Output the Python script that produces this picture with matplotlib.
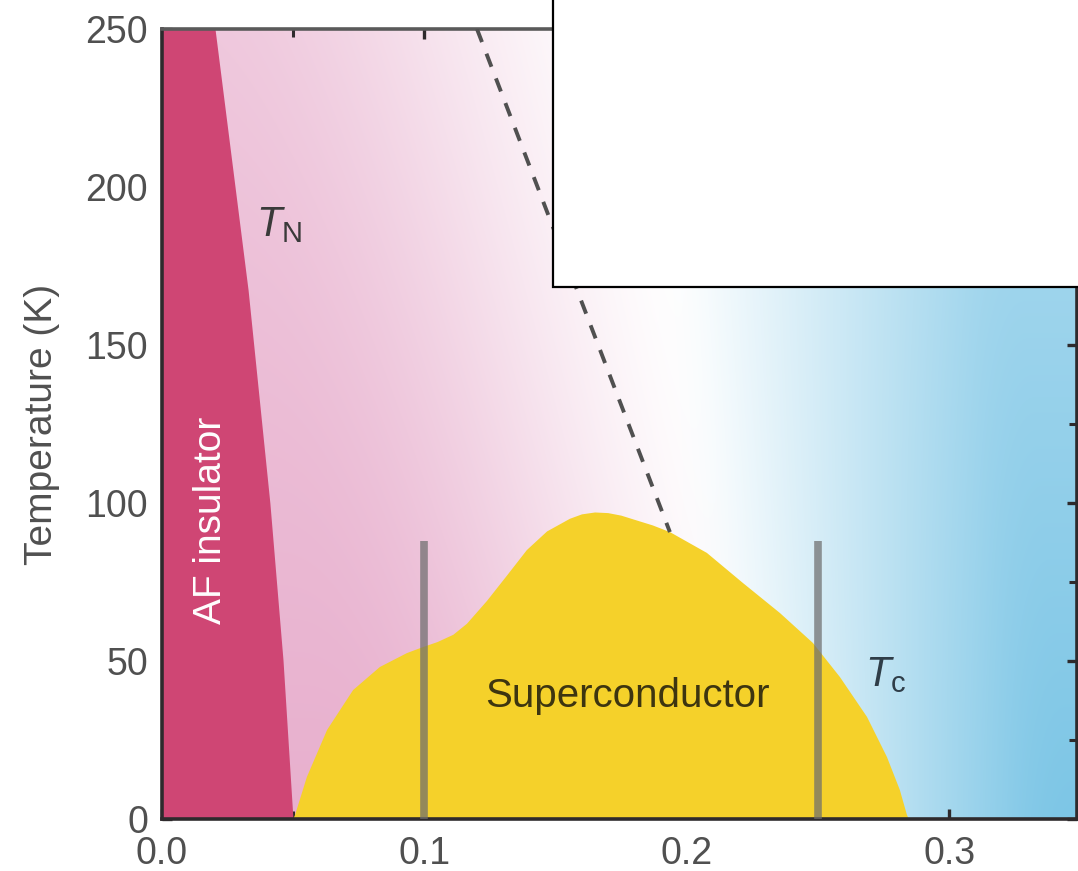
import numpy as np
import matplotlib
matplotlib.use("Agg")
import matplotlib.pyplot as plt
from matplotlib.patches import Rectangle
from matplotlib.ticker import MultipleLocator, FixedLocator

plt.rcParams['font.family'] = ['Liberation Sans', 'DejaVu Sans']
plt.rcParams['mathtext.fontset'] = 'custom'
plt.rcParams['mathtext.rm'] = 'Liberation Sans'
plt.rcParams['mathtext.it'] = 'Liberation Sans:italic'

# ---- data (doping p, temperature T in K) ----
af_x = [0.0202, 0.0328, 0.0411, 0.0461, 0.0499]
af_T = [250, 167.4, 100, 50.3, 0]

dome_x = [0.0500, 0.0507, 0.0552, 0.0629, 0.0728, 0.0830, 0.0933, 0.0994, 0.1050,
          0.1110, 0.1162, 0.1238, 0.1314, 0.1390, 0.1467, 0.1554, 0.1600, 0.1650,
          0.1700, 0.1750, 0.1800, 0.1870, 0.1935, 0.2076, 0.2213, 0.2354, 0.2480,
          0.2583, 0.2686, 0.2762, 0.2811, 0.2838, 0.2845]
dome_T = [0, 1.3, 13.3, 28.2, 40.8, 48.1, 52.5, 54.4, 56.0,
          58.3, 61.8, 69.0, 77.0, 85.1, 91.0, 95.0, 96.4, 97.0,
          96.8, 96.0, 94.7, 92.9, 90.8, 84.2, 74.7, 65.2, 55.7,
          44.9, 32.3, 19.6, 9.2, 1.3, 0]

pseudo_x = [0.120, 0.1935]
pseudo_T = [250, 90.8]

cut_x = [0.10, 0.25]
cut_Tmax = 88

x_ticks = [0.0, 0.1, 0.2, 0.3]
x_ticklabels = ['0.0', '0.1', '0.2', '0.3']
y_ticks = [0, 50, 100, 150, 200, 250]

XMAX = 0.3486
TMAX = 250

fig = plt.figure(figsize=(10.78, 8.71), dpi=100)
ax = fig.add_axes([162/1078, 1 - 819/871, 915/1078, 790/871])

# ---- background gradient (pink -> white -> blue) ----
nx, ny = 600, 300
gx = np.linspace(0, XMAX, nx)
gT = np.linspace(0, TMAX, ny)
X, T = np.meshgrid(gx, gT)
xw_p = 0.207 - 0.00025 * (T - 140)
xw_b = 0.200 - 0.00012 * (T - 140)
sp_ = np.clip((xw_p - X) / 0.17, 0, 1)
wp = (3 * sp_**2 - 2 * sp_**3) ** 0.8 * (1 - 0.0012 * T)
sb_ = np.clip((X - xw_b) / 0.12, 0, 1)
wb = sb_ * (1 - 0.0015 * T)
# soften along x with a box blur
k = np.ones(41) / 41
pad = 20
def blur(a):
    ap = np.pad(a, ((0, 0), (pad, pad)), mode='edge')
    return np.array([np.convolve(r, k, mode='valid') for r in ap])
wp = blur(wp)
wb = blur(wb)
P = np.array([232, 176, 206]) / 255
B = np.array([125, 198, 230]) / 255
W = np.ones(3)
img = (W[None, None, :]
       - wp[..., None] * (W - P)[None, None, :]
       - wb[..., None] * (W - B)[None, None, :])
img = np.clip(img, 0, 1)
ax.imshow(img, extent=[0, XMAX, 0, TMAX], origin='lower', aspect='auto',
          interpolation='bilinear', zorder=0)

# ---- AF insulator ----
ax.fill_betweenx(af_T, 0, af_x, color='#cf4674', lw=0, zorder=2)

# ---- superconducting dome ----
ax.fill(dome_x, dome_T, color='#f5d12a', lw=0, zorder=2)

# ---- pseudogap dashed line ----
ax.plot(pseudo_x, pseudo_T, color='#505050', lw=2.8, dashes=(3.6, 3.2),
        zorder=3, solid_capstyle='butt')

# ---- vertical cuts ----
for xc in cut_x:
    ax.plot([xc, xc], [0, cut_Tmax], color='#6e6e6e', alpha=0.72, lw=5.5,
            solid_capstyle='butt', zorder=4)

# ---- labels ----
ax.text(0.0185, 94.6, 'AF insulator', rotation=90, color='white',
        fontsize=28, ha='center', va='center', zorder=5)
ax.text(0.0446, 188, r'$T_\mathrm{N}$', color='#3a3a3a', fontsize=30,
        ha='center', va='center', zorder=5)
ax.text(0.1773, 35.4, 'Superconductor', color='#3d3510', fontsize=29,
        ha='center', va='baseline', zorder=5)
ax.text(0.2758, 45.6, r'$T_\mathrm{c}$', color='#2f3d48', fontsize=30,
        ha='center', va='center', zorder=5)

# ---- axes styling ----
ax.set_xlim(0, XMAX)
ax.set_ylim(0, TMAX)
ax.xaxis.set_major_locator(FixedLocator(x_ticks))
ax.set_xticklabels(x_ticklabels)
ax.xaxis.set_minor_locator(MultipleLocator(0.05))
ax.yaxis.set_major_locator(FixedLocator(y_ticks))
ax.yaxis.set_minor_locator(MultipleLocator(25))
ax.tick_params(which='both', direction='in', top=True, right=True,
               colors='#2e2a2c', labelcolor='#505050', labelsize=27)
ax.tick_params(which='major', length=7, width=2.4, pad=10)
ax.tick_params(axis='x', which='major', pad=12)
ax.tick_params(which='minor', length=6, width=2.2)
ax.set_ylabel('Temperature (K)', fontsize=28, color='#505050')
ax.yaxis.set_label_coords(-0.112, 0.5)

for side, sp in ax.spines.items():
    sp.set_linewidth(2.6)
    sp.set_color('#2e2a2c')
ax.spines['top'].set_color('#5a5a5a')

# ---- white overlay box (top right) ----
box = Rectangle((553/1078, 1 - 287/871), 1.0, 1.0, transform=fig.transFigure,
                facecolor='white', edgecolor='black', lw=1.6, zorder=10)
fig.add_artist(box)

fig.savefig('out.png', dpi=100)
